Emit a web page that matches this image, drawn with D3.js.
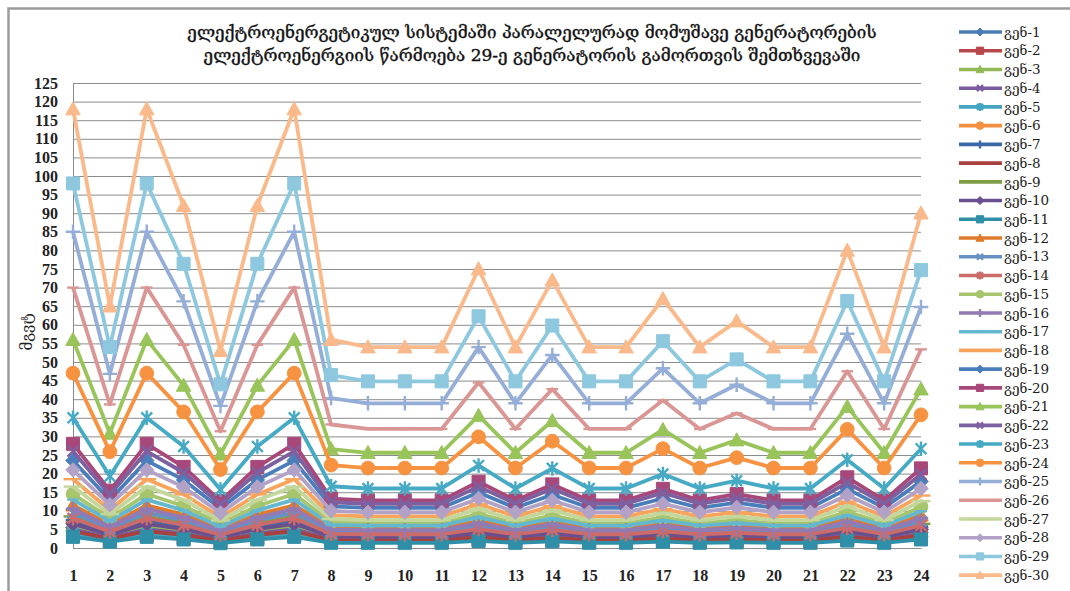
<!DOCTYPE html>
<html>
<head>
<meta charset="utf-8">
<script src="https://cdn.jsdelivr.net/npm/d3@7/dist/d3.min.js"></script>
<style>
  body { margin: 0; background: #ffffff; }
  svg { display: block; }
</style>
</head>
<body>
<svg id="chart" width="1070" height="591"></svg>
<script>
// ---- data -------------------------------------------------------------
const hours = [1, 2, 3, 4, 5, 6, 7, 8, 9, 10, 11, 12, 13, 14, 15, 16, 17, 18, 19, 20, 21, 22, 23, 24];
const yTicks = [0, 5, 10, 15, 20, 25, 30, 35, 40, 45, 50, 55, 60, 65, 70, 75, 80, 85, 90, 95, 100, 105, 110, 115, 120, 125];

const titleLines = [
  "ელექტროენერგეტიკულ სისტემაში პარალელურად მომუშავე გენერატორების",
  "ელექტროენერგიის წარმოება 29-ე გენერატორის გამორთვის შემთხვევაში"
];
const yTitle = "მგვტ";

const seriesNames = [
  "გენ-1", "გენ-2", "გენ-3", "გენ-4", "გენ-5", "გენ-6", "გენ-7", "გენ-8", "გენ-9", "გენ-10",
  "გენ-11", "გენ-12", "გენ-13", "გენ-14", "გენ-15", "გენ-16", "გენ-17", "გენ-18", "გენ-19", "გენ-20",
  "გენ-21", "გენ-22", "გენ-23", "გენ-24", "გენ-25", "გენ-26", "გენ-27", "გენ-28", "გენ-29", "გენ-30"
];

// generator output, MW, hours 1..24
const gen1  = [5.5, 3, 5.5, 4.3, 2.5, 4.3, 5.5, 2.6, 2.5, 2.5, 2.5, 3.5, 2.5, 3.4, 2.5, 2.5, 3.1, 2.5, 2.8, 2.5, 2.5, 3.7, 2.5, 4.2];
const gen2  = [3.5, 1.9, 3.5, 2.7, 1.6, 2.7, 3.5, 1.7, 1.6, 1.6, 1.6, 2.2, 1.6, 2.1, 1.6, 1.6, 2, 1.6, 1.8, 1.6, 1.6, 2.4, 1.6, 2.7];
const gen3  = [6, 3.3, 6, 4.7, 2.7, 4.7, 6, 2.8, 2.7, 2.7, 2.7, 3.8, 2.7, 3.7, 2.7, 2.7, 3.4, 2.7, 3.1, 2.7, 2.7, 4.1, 2.7, 4.6];
const gen4  = [5, 2.8, 5, 3.9, 2.2, 3.9, 5, 2.4, 2.3, 2.3, 2.3, 3.2, 2.3, 3.1, 2.3, 2.3, 2.8, 2.3, 2.6, 2.3, 2.3, 3.4, 2.3, 3.8];
const gen5  = [4, 2.2, 4, 3.1, 1.8, 3.1, 4, 1.9, 1.8, 1.8, 1.8, 2.5, 1.8, 2.4, 1.8, 1.8, 2.3, 1.8, 2.1, 1.8, 1.8, 2.7, 1.8, 3.1];
const gen6  = [7, 3.9, 7, 5.5, 3.1, 5.5, 7, 3.3, 3.2, 3.2, 3.2, 4.4, 3.2, 4.3, 3.2, 3.2, 4, 3.2, 3.6, 3.2, 3.2, 4.7, 3.2, 5.3];
const gen7  = [7.5, 4.1, 7.5, 5.9, 3.4, 5.9, 7.5, 3.6, 3.4, 3.4, 3.4, 4.8, 3.4, 4.6, 3.4, 3.4, 4.3, 3.4, 3.9, 3.4, 3.4, 5.1, 3.4, 5.7];
const gen8  = [4.5, 2.5, 4.5, 3.5, 2, 3.5, 4.5, 2.1, 2.1, 2.1, 2.1, 2.9, 2.1, 2.7, 2.1, 2.1, 2.6, 2.1, 2.3, 2.1, 2.1, 3, 2.1, 3.4];
const gen9  = [8.5, 4.7, 8.5, 6.6, 3.8, 6.6, 8.5, 4, 3.9, 3.9, 3.9, 5.4, 3.9, 5.2, 3.9, 3.9, 4.8, 3.9, 4.4, 3.9, 3.9, 5.8, 3.9, 6.5];
const gen10 = [6.5, 3.6, 6.5, 5.1, 2.9, 5.1, 6.5, 3.1, 3, 3, 3, 4.1, 3, 4, 3, 3, 3.7, 3, 3.4, 3, 3, 4.4, 3, 5];
const gen11 = [3, 1.7, 3, 2.3, 1.3, 2.3, 3, 1.4, 1.4, 1.4, 1.4, 1.9, 1.4, 1.8, 1.4, 1.4, 1.7, 1.4, 1.5, 1.4, 1.4, 2, 1.4, 2.3];
const gen12 = [11.5, 6.3, 11.5, 9, 5.2, 9, 11.5, 5.5, 5.3, 5.3, 5.3, 7.3, 5.3, 7, 5.3, 5.3, 6.5, 5.3, 5.9, 5.3, 5.3, 7.8, 5.3, 8.8];
const gen13 = [9.5, 5.2, 9.5, 7.4, 4.3, 7.4, 9.5, 4.5, 4.3, 4.3, 4.3, 6, 4.3, 5.8, 4.3, 4.3, 5.4, 4.3, 4.9, 4.3, 4.3, 6.4, 4.3, 7.2];
const gen14 = [8, 4.4, 8, 6.2, 3.6, 6.2, 8, 3.8, 3.7, 3.7, 3.7, 5.1, 3.7, 4.9, 3.7, 3.7, 4.5, 3.7, 4.1, 3.7, 3.7, 5.4, 3.7, 6.1];
const gen15 = [14.5, 8, 14.5, 11.3, 6.5, 11.3, 14.5, 6.9, 6.6, 6.6, 6.6, 9.2, 6.6, 8.8, 6.6, 6.6, 8.2, 6.6, 7.5, 6.6, 6.6, 9.8, 6.6, 11.1];
const gen16 = [10.5, 5.8, 10.5, 8.2, 4.7, 8.2, 10.5, 5, 4.8, 4.8, 4.8, 6.7, 4.8, 6.4, 4.8, 4.8, 6, 4.8, 5.4, 4.8, 4.8, 7.1, 4.8, 8];
const gen17 = [13, 7.2, 13, 10.1, 5.8, 10.1, 13, 6.2, 6, 6, 6, 8.3, 6, 7.9, 6, 6, 7.4, 6, 6.7, 6, 6, 8.8, 6, 9.9];
const gen18 = [18.5, 10.2, 18.5, 14.4, 8.3, 14.4, 18.5, 8.8, 8.5, 8.5, 8.5, 11.8, 8.5, 11.3, 8.5, 8.5, 10.5, 8.5, 9.6, 8.5, 8.5, 12.5, 8.5, 14.1];
const gen19 = [23.5, 12.9, 23.5, 18.3, 10.6, 18.3, 23.5, 11.2, 10.8, 10.8, 10.8, 14.9, 10.8, 14.3, 10.8, 10.8, 13.3, 10.8, 12.2, 10.8, 10.8, 15.9, 10.8, 17.9];
const gen20 = [28, 15.4, 28, 21.8, 12.6, 21.8, 28, 13.3, 12.8, 12.8, 12.8, 17.8, 12.8, 17.1, 12.8, 12.8, 15.9, 12.8, 14.5, 12.8, 12.8, 19, 12.8, 21.4];
const gen21 = [56, 30.8, 56, 43.7, 25.2, 43.7, 56, 26.6, 25.6, 25.6, 25.6, 35.6, 25.6, 34.2, 25.6, 25.6, 31.8, 25.6, 29, 25.6, 25.6, 38, 25.6, 42.7];
const gen22 = [26, 14.3, 26, 20.3, 11.7, 20.3, 26, 12.3, 11.9, 11.9, 11.9, 16.5, 11.9, 15.9, 11.9, 11.9, 14.8, 11.9, 13.4, 11.9, 11.9, 17.6, 11.9, 19.8];
const gen23 = [35, 19.3, 35, 27.3, 15.7, 27.3, 35, 16.6, 16, 16, 16, 22.2, 16, 21.4, 16, 16, 19.9, 16, 18.1, 16, 16, 23.7, 16, 26.7];
const gen24 = [47, 25.9, 47, 36.6, 21.1, 36.6, 47, 22.3, 21.5, 21.5, 21.5, 29.9, 21.5, 28.7, 21.5, 21.5, 26.7, 21.5, 24.3, 21.5, 21.5, 31.9, 21.5, 35.8];
const gen25 = [85, 46.8, 85, 66.3, 38.2, 66.3, 85, 40.3, 38.9, 38.9, 38.9, 54, 38.9, 51.9, 38.9, 38.9, 48.3, 38.9, 43.9, 38.9, 38.9, 57.6, 38.9, 64.8];
const gen26 = [70, 38.6, 70, 54.6, 31.4, 54.6, 70, 33.2, 32, 32, 32, 44.5, 32, 42.7, 32, 32, 39.7, 32, 36.2, 32, 32, 47.5, 32, 53.4];
const gen27 = [16.5, 9.1, 16.5, 12.9, 7.4, 12.9, 16.5, 7.8, 7.5, 7.5, 7.5, 10.5, 7.5, 10.1, 7.5, 7.5, 9.4, 7.5, 8.5, 7.5, 7.5, 11.2, 7.5, 12.6];
const gen28 = [21, 11.6, 21, 16.4, 9.4, 16.4, 21, 10, 9.6, 9.6, 9.6, 13.3, 9.6, 12.8, 9.6, 9.6, 11.9, 9.6, 10.9, 9.6, 9.6, 14.2, 9.6, 16];
const gen29 = [98, 54, 98, 76.4, 44, 76.4, 98, 46.5, 44.8, 44.8, 44.8, 62.3, 44.8, 59.8, 44.8, 44.8, 55.6, 44.8, 50.7, 44.8, 44.8, 66.4, 44.8, 74.7];
const gen30 = [118, 65, 118, 92, 53, 92, 118, 56, 54, 54, 54, 75, 54, 72, 54, 54, 67, 54, 61, 54, 54, 80, 54, 90];

const seriesValues = [gen1, gen2, gen3, gen4, gen5, gen6, gen7, gen8, gen9, gen10,
  gen11, gen12, gen13, gen14, gen15, gen16, gen17, gen18, gen19, gen20,
  gen21, gen22, gen23, gen24, gen25, gen26, gen27, gen28, gen29, gen30];

// ---- styling ---------------------------------------------------------
const seriesColors = [
  "#4a7cb8", "#b8474a", "#93b955", "#7a5c9e", "#43a5c0", "#f39040",
  "#3a68a8", "#a8403e", "#7e9e45", "#6a4f8e", "#2f8fa8", "#e07b2c",
  "#6690c6", "#cc6b69", "#a6c56c", "#937ab3", "#63b8d0", "#f9a45c",
  "#4a7ebb", "#a8487a", "#98c45a", "#7d60a0", "#46aac5", "#f69240",
  "#95aed7", "#d99694", "#c3d69b", "#b3a2c7", "#8ec8df", "#f9b98a"
];
const markerCycle = ["diamond", "square", "triangle", "x", "star", "circle", "plus", "dash", "longdash"];

const W = 1070, H = 591;
const plot = { left: 73, right: 921, top: 83, bottom: 548 };

const svg = d3.select("#chart");

// outer frame
svg.append("rect")
  .attr("x", 8.5).attr("y", 8.5)
  .attr("width", W + 20).attr("height", H + 20)
  .attr("fill", "#ffffff")
  .attr("stroke", "#9c9c9c").attr("stroke-width", 2.5);

const x = d3.scalePoint().domain(hours).range([plot.left, plot.right]).padding(0);
const y = d3.scaleLinear().domain([0, 125]).range([plot.bottom, plot.top]);

// horizontal gridlines + y labels
const yAxis = d3.axisLeft(y).tickValues(yTicks).tickSize(-(plot.right - plot.left)).tickPadding(15);
const gy = svg.append("g").attr("transform", `translate(${plot.left},0)`).call(yAxis);
gy.select(".domain").attr("stroke", "#8a8a8a");
gy.selectAll(".tick line").attr("stroke", "#8c8c8c").attr("stroke-width", 1);
gy.selectAll(".tick text")
  .attr("font-family", "Liberation Serif, serif")
  .attr("font-size", 16).attr("font-weight", "bold").attr("fill", "#222");

// x labels
const xAxis = d3.axisBottom(x).tickSize(0).tickPadding(22);
const gx = svg.append("g").attr("transform", `translate(0,${plot.bottom})`).call(xAxis);
gx.select(".domain").attr("stroke", "#8c8c8c");
gx.selectAll(".tick text")
  .attr("font-family", "Liberation Serif, serif")
  .attr("font-size", 16).attr("font-weight", "bold").attr("fill", "#222");

// marker shapes centred on (0,0)
function markerPath(type, s) {
  const h = s / 2;
  switch (type) {
    case "diamond": return `M0,${-h}L${h},0L0,${h}L${-h},0Z`;
    case "square": return `M${-h * 0.9},${-h * 0.9}H${h * 0.9}V${h * 0.9}H${-h * 0.9}Z`;
    case "triangle": return `M0,${-h}L${h},${h * 0.8}L${-h},${h * 0.8}Z`;
    case "circle": return d3.arc()({ innerRadius: 0, outerRadius: h * 0.95, startAngle: 0, endAngle: 2 * Math.PI });
    case "x": return `M${-h * 0.75},${-h * 0.75}L${h * 0.75},${h * 0.75}M${h * 0.75},${-h * 0.75}L${-h * 0.75},${h * 0.75}`;
    case "star": return `M${-h * 0.75},${-h * 0.75}L${h * 0.75},${h * 0.75}M${h * 0.75},${-h * 0.75}L${-h * 0.75},${h * 0.75}M0,${-h}V${h}`;
    case "plus": return `M${-h},0H${h}M0,${-h}V${h}`;
    case "dash": return `M${-h * 0.8},0H${h * 0.8}`;
    case "longdash": return `M${-h * 1.3},0H${h * 1.3}`;
  }
  return "";
}
const filledMarkers = new Set(["diamond", "square", "triangle", "circle"]);

function drawMarker(g, type, color, s) {
  const p = g.append("path").attr("d", markerPath(type, s));
  if (filledMarkers.has(type)) {
    p.attr("fill", color).attr("stroke", color).attr("stroke-width", 1);
  } else {
    p.attr("fill", "none").attr("stroke", color).attr("stroke-width", 2.4);
  }
}

// series
const line = d3.line().x((d, i) => x(hours[i])).y(d => y(d));
const seriesLayer = svg.append("g");
seriesValues.forEach((vals, k) => {
  const color = seriesColors[k];
  const type = markerCycle[k % markerCycle.length];
  const g = seriesLayer.append("g");
  g.append("path").datum(vals)
    .attr("d", line)
    .attr("fill", "none")
    .attr("stroke", color)
    .attr("stroke-width", 3.8)
    .attr("stroke-linejoin", "round");
  vals.forEach((v, i) => {
    const mg = g.append("g").attr("transform", `translate(${x(hours[i])},${y(v)})`);
    drawMarker(mg, type, color, 14.5);
  });
});

// title
const title = svg.append("g").attr("font-family", "DejaVu Serif, DejaVu Sans, serif").attr("fill", "#111");
titleLines.forEach((t, i) => {
  title.append("text")
    .attr("x", 532).attr("y", 38 + i * 23)
    .attr("text-anchor", "middle")
    .attr("font-size", 17)
    .attr("stroke", "#111").attr("stroke-width", 0.35)
    .text(t);
});
// fit first title line to its width
const t0 = title.select("text").node();
const w0 = t0.getComputedTextLength();
const fs = 17 * 690 / w0;
title.selectAll("text").attr("font-size", fs);

// y axis title
svg.append("text")
  .attr("transform", "translate(32,332) rotate(-90)")
  .attr("text-anchor", "middle")
  .attr("font-family", "DejaVu Serif, DejaVu Sans, serif")
  .attr("font-size", 15)
  .attr("fill", "#1c1c1c")
  .text(yTitle);

// legend
const legend = svg.append("g");
seriesNames.forEach((name, k) => {
  const cy = 32 + k * 18.73;
  const color = seriesColors[k];
  const g = legend.append("g").attr("transform", `translate(0,${cy})`);
  g.append("line").attr("x1", 959).attr("x2", 1002).attr("y1", 0).attr("y2", 0)
    .attr("stroke", color).attr("stroke-width", 3.6);
  const mg = g.append("g").attr("transform", "translate(980,0)");
  drawMarker(mg, markerCycle[k % markerCycle.length], color, 8);
  g.append("text").attr("x", 1004).attr("y", 0).attr("dy", "0.35em")
    .attr("font-family", "DejaVu Serif, DejaVu Sans, serif")
    .attr("font-size", 13.5).attr("fill", "#1c1c1c")
    .text(name);
});
</script>
</body>
</html>
